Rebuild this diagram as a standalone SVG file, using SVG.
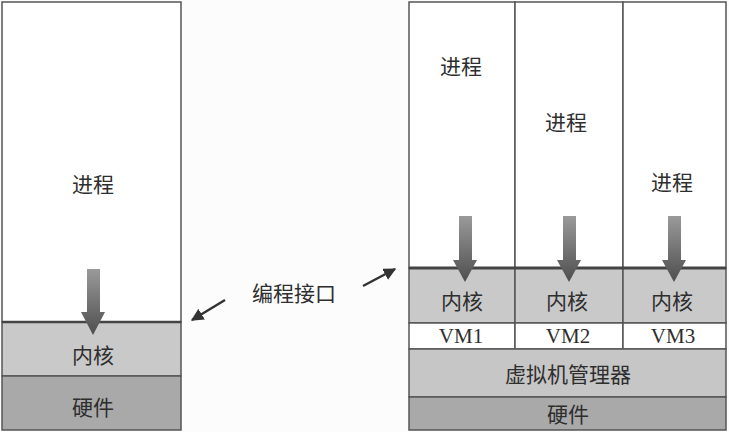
<svg xmlns="http://www.w3.org/2000/svg" width="729" height="432" viewBox="0 0 729 432">
<defs>
<linearGradient id="ag" x1="0" y1="0" x2="0" y2="1">
<stop offset="0" stop-color="#9a9a9a"/>
<stop offset="1" stop-color="#4e4e4e"/>
</linearGradient>
<marker id="ah" viewBox="0 0 10 10" refX="9" refY="5" markerWidth="5" markerHeight="5" orient="auto">
<path d="M0,0 L10,5 L0,10 Z" fill="#333"/>
</marker>
<style>
.b{stroke:#555;stroke-width:1.5}
.w{fill:#fff}
.k{fill:#c9c9c9}
.h{fill:#a9a9a9}
.hv{fill:#c6c6c6}
.cn{font-family:"Noto Sans CJK SC","Noto Sans",sans-serif;font-size:21px;fill:#2e2e2e;text-anchor:middle;dominant-baseline:central}
.vm{font-family:"Liberation Serif",serif;font-size:21px;fill:#2e2e2e;text-anchor:middle;dominant-baseline:central}
.arr{fill:url(#ag)}
.con{stroke:#333;stroke-width:2.5;fill:none}
</style>
</defs>
<rect width="729" height="432" fill="#fcfcfc"/>

<g id="left-process">
<rect class="w b" x="2" y="2" width="179" height="320"/>
<text class="cn" x="93" y="183">进程</text>
</g>
<g id="left-kernel">
<rect class="k b" x="2" y="322" width="179" height="54"/>
<text class="cn" x="93" y="354">内核</text>
</g>
<g id="left-hardware">
<rect class="h b" x="2" y="376" width="179" height="54"/>
<text class="cn" x="93" y="406">硬件</text>
</g>
<line x1="2" y1="322" x2="181" y2="322" stroke="#444" stroke-width="2.5"/>
<g id="left-arrow">
<path class="arr" d="M87,269 H100 V312 H105 L93,335 L81,312 H87 Z"/>
</g>

<g id="p1">
<rect class="w b" x="409" y="2" width="106" height="266"/>
<text class="cn" x="461" y="65">进程</text>
</g>
<g id="p2">
<rect class="w b" x="515" y="2" width="108" height="266"/>
<text class="cn" x="566" y="121">进程</text>
</g>
<g id="p3">
<rect class="w b" x="623" y="2" width="103" height="266"/>
<text class="cn" x="672" y="181">进程</text>
</g>
<g id="k1">
<rect class="k b" x="409" y="268" width="106" height="55"/>
<text class="cn" x="462" y="300">内核</text>
</g>
<g id="k2">
<rect class="k b" x="515" y="268" width="108" height="55"/>
<text class="cn" x="567" y="300">内核</text>
</g>
<g id="k3">
<rect class="k b" x="623" y="268" width="103" height="55"/>
<text class="cn" x="672" y="300">内核</text>
</g>
<g id="vm1">
<rect class="w b" x="409" y="323" width="106" height="26"/>
<text class="vm" x="461" y="336">VM1</text>
</g>
<g id="vm2">
<rect class="w b" x="515" y="323" width="108" height="26"/>
<text class="vm" x="568" y="336">VM2</text>
</g>
<g id="vm3">
<rect class="w b" x="623" y="323" width="103" height="26"/>
<text class="vm" x="673" y="336">VM3</text>
</g>
<g id="hypervisor">
<rect class="hv b" x="409" y="349" width="317" height="48"/>
<text class="cn" x="568" y="373">虚拟机管理器</text>
</g>
<g id="right-hardware">
<rect class="h b" x="409" y="397" width="317" height="33"/>
<text class="cn" x="568" y="413">硬件</text>
</g>
<line x1="409" y1="268" x2="726" y2="268" stroke="#444" stroke-width="3"/>
<g id="right-arrows">
<path class="arr" d="M459,216 H472 V260 H477 L465,282 L453,260 H459 Z"/>
<path class="arr" d="M563,216 H576 V260 H581 L569,282 L557,260 H563 Z"/>
<path class="arr" d="M668,216 H681 V260 H686 L674,282 L662,260 H668 Z"/>
</g>

<g id="api-label">
<text class="cn" x="294" y="292">编程接口</text>
</g>
<g id="connectors">
<line class="con" x1="225" y1="300" x2="192" y2="320" marker-end="url(#ah)"/>
<line class="con" x1="363" y1="286" x2="395" y2="269" marker-end="url(#ah)"/>
</g>
</svg>
